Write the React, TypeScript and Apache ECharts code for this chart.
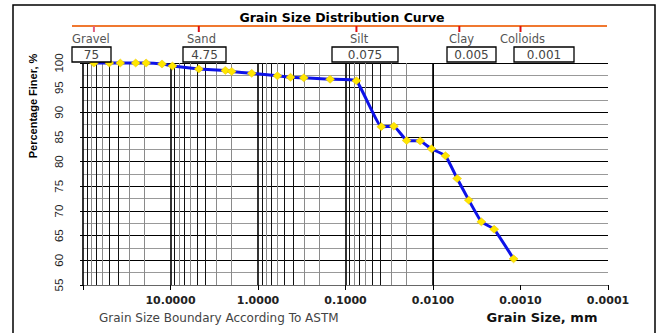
import React, { useEffect, useRef } from "react";
import * as echarts from "echarts";

// Grain sizes (mm) and percentage finer
const grainSizes = [75, 50, 37.5, 25, 19, 12.5, 9.5, 4.75, 2.36, 2.0, 1.18, 0.6, 0.425, 0.3, 0.15, 0.075, 0.039, 0.028, 0.02, 0.014, 0.0104, 0.0072, 0.0053, 0.0039, 0.0028, 0.002, 0.0012];
const percentFiner = [100, 100, 100, 100, 100, 99.8, 99.4, 98.8, 98.5, 98.3, 97.9, 97.4, 97.1, 97.0, 96.7, 96.4, 87.1, 87.2, 84.3, 84.2, 82.6, 81.2, 76.6, 72.2, 67.8, 66.3, 60.3];

// ASTM boundaries
const boundaryNames = ["Gravel", "Sand", "Silt", "Clay", "Colloids"];
const boundaryValues = [75, 4.75, 0.075, 0.005, 0.001];
const boundaryLabels = ["75", "4.75", "0.075", "0.005", "0.001"];

// Axis settings
const xMin = 0.0001;
const xMax = 100;
const yMin = 55;
const yMax = 100;
const yInterval = 5;
const decades = [0.0001, 0.001, 0.01, 0.1, 1, 10];
const minorMultipliers = [2, 3, 4, 5, 6, 7, 8, 9];

// layout (pixel) for annotation boxes
const nameLeft = [72, 187, 350, 449, 500];
const boxLeft = [72, 183, 332, 447, 514];
const boxWidth = [39, 43, 66, 49, 60];

export default function App() {
  const ref = useRef<HTMLDivElement>(null);
  useEffect(() => {
    if (!ref.current) return;
    const chart = echarts.init(ref.current, null, { renderer: "svg" });

    const minorLines: any[] = [];
    decades.forEach((d) => {
      minorMultipliers.forEach((m) => {
        const dark = m === 4 || m === 5 || m === 7 || m === 9;
        minorLines.push({
          xAxis: d * m,
          lineStyle: { color: dark ? "#111" : "#8a8a8a", width: 1, type: "solid" },
        });
      });
    });
    const majorLines = decades.concat([xMax]).map((d) => ({
      xAxis: d,
      lineStyle: { color: d === xMin ? "#888" : "#000", width: d === xMin ? 1 : 1.6, type: "solid" },
    }));

    chart.setOption({
      animation: false,
      backgroundColor: "#fff",
      grid: { left: 83, right: 52, top: 63, bottom: 48, containLabel: false },
      xAxis: {
        type: "log",
        logBase: 10,
        min: xMin,
        max: xMax,
        inverse: true,
        axisLine: { show: true, lineStyle: { color: "#666", width: 1 } },
        axisTick: { show: true, length: 5, lineStyle: { color: "#000" } },
        splitLine: { show: false },
        axisLabel: {
          margin: 10,
          fontFamily: "DejaVu Sans",
          fontWeight: "bold",
          fontSize: 11,
          color: "#222",
          formatter: (v: number) => (v >= 99 ? "" : Number(v).toFixed(4)),
        },
      },
      yAxis: {
        type: "value",
        min: yMin,
        max: yMax,
        interval: yInterval,
        axisLine: { show: false },
        axisTick: { show: true, length: 3, lineStyle: { color: "#000" } },
        axisLabel: {
          rotate: 90,
          margin: 18,
          fontFamily: "Liberation Sans",
          fontSize: 11.5,
          color: "#222",
        },
        splitLine: { show: true, lineStyle: { color: "#000", width: 1.2 } },
        minorTick: { show: false, splitNumber: 2 },
        minorSplitLine: { show: true, lineStyle: { color: "#999", width: 1 } },
      },
      series: [
        {
          type: "line",
          data: [],
          z: 1,
          silent: true,
          markLine: {
            silent: true,
            symbol: "none",
            label: { show: false },
            animation: false,
            data: minorLines.concat(majorLines),
          },
        },
        {
          type: "line",
          z: 5,
          clip: false,
          smooth: 0.1,
          data: grainSizes.map((s, i) => [s, percentFiner[i]]),
          lineStyle: { color: "#0d12e8", width: 3 },
          symbol: "diamond",
          symbolSize: [9, 8],
          itemStyle: { color: "#ffe600", borderColor: "#e8c400", borderWidth: 0.5 },
        },
      ],
    });

    const tickXs = boundaryValues.map((v) => chart.convertToPixel({ xAxisIndex: 0 }, v) as number);

    const graphics: any[] = [
      {
        type: "rect",
        shape: { x: 13, y: 5, width: 642, height: 345 },
        style: { fill: "none", stroke: "#000", lineWidth: 1.5 },
        silent: true,
      },
      {
        type: "text",
        x: 342,
        y: 17,
        style: {
          text: "Grain Size Distribution Curve",
          font: "bold 12.5px 'DejaVu Sans'",
          fill: "#000",
          align: "center",
          verticalAlign: "middle",
        },
      },
      {
        type: "line",
        shape: { x1: 72, y1: 26, x2: 607, y2: 26 },
        style: { stroke: "#f07830", lineWidth: 2 },
      },
      {
        type: "text",
        x: 33,
        y: 106,
        rotation: Math.PI / 2,
        style: {
          text: "Percentage Finer, %",
          font: "bold 11px 'Liberation Sans'",
          fill: "#000",
          align: "center",
          verticalAlign: "middle",
        },
      },
      {
        type: "text",
        x: 99,
        y: 318,
        style: {
          text: "Grain Size Boundary According To ASTM",
          font: "12px 'DejaVu Sans'",
          fill: "#444",
          align: "left",
          verticalAlign: "middle",
        },
      },
      {
        type: "text",
        x: 542,
        y: 317,
        style: {
          text: "Grain Size, mm",
          font: "bold 13px 'DejaVu Sans'",
          fill: "#111",
          align: "center",
          verticalAlign: "middle",
        },
      },
    ];

    boundaryNames.forEach((name, i) => {
      const tx = tickXs[i];
      graphics.push({
        type: "line",
        shape: { x1: tx, y1: 26, x2: tx, y2: 32 },
        style: { stroke: i === 0 ? "#e06080" : "#e01010", lineWidth: 2 },
      });
      graphics.push({
        type: "text",
        x: nameLeft[i],
        y: 39,
        style: {
          text: name,
          font: "11.5px 'DejaVu Sans'",
          fill: "#555",
          align: "left",
          verticalAlign: "middle",
        },
      });
      graphics.push({
        type: "rect",
        z: 10,
        shape: { x: boxLeft[i], y: 47, width: boxWidth[i], height: 15 },
        style: { fill: "#fff", stroke: "#000", lineWidth: 1.3 },
      });
      graphics.push({
        type: "text",
        z: 11,
        x: boxLeft[i] + boxWidth[i] / 2,
        y: 54.5,
        style: {
          text: boundaryLabels[i],
          font: "12px 'DejaVu Sans'",
          fill: "#444",
          align: "center",
          verticalAlign: "middle",
        },
      });
    });

    chart.setOption({ graphic: graphics });

    return () => chart.dispose();
  }, []);

  return (
    <div
      ref={ref}
      style={{ position: "fixed", left: 0, top: 0, width: 660, height: 333, background: "#fff" }}
    />
  );
}
